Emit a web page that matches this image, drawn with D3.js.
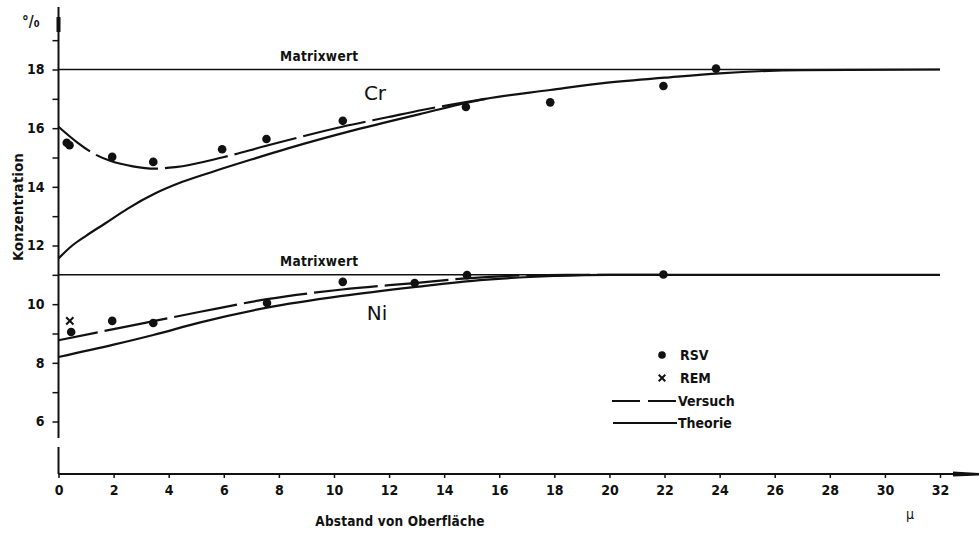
<!DOCTYPE html>
<html>
<head>
<meta charset="utf-8">
<script src="https://cdn.jsdelivr.net/npm/d3@7"></script>
<style>
    body { margin: 0; background: #fff; }
    svg { display: block; }
    text { font-family: 'DejaVu Sans Condensed', 'DejaVu Sans', sans-serif; fill: #111; font-weight: bold; }
</style>
</head>
<body>
<script>
// values (x in µ, y in %)
const crVersuchX = [0, 0.7, 1.34, 1.9, 2.7, 3.5, 4.24, 5.94, 7.51, 10.3, 11.98, 13.2, 15.5]
const crVersuchY = [16.05, 15.5, 15.1, 14.88, 14.7, 14.62, 14.67, 15.0, 15.39, 16.05, 16.38, 16.62, 17.0]
const crTheorieX = [0, 0.5, 1, 1.69, 2.5, 3.5, 4.5, 5.68, 7, 8.33, 10.77, 13.2, 15.5, 17.85, 19.7, 22, 24, 27, 32]
const crTheorieY = [11.56, 12.0, 12.33, 12.75, 13.25, 13.77, 14.17, 14.54, 14.93, 15.31, 15.94, 16.5, 17.0, 17.3, 17.53, 17.72, 17.87, 17.98, 18.0]
const niVersuchX = [0, 2, 3.44, 5.15, 7.57, 10.3, 12.93, 14.8, 16.5, 18.5, 22]
const niVersuchY = [8.77, 9.15, 9.42, 9.74, 10.17, 10.5, 10.72, 10.88, 10.97, 11.0, 11.0]
const niTheorieX = [0, 2, 3.44, 5.15, 7.57, 10.3, 12.9, 15.3, 18, 20, 32]
const niTheorieY = [8.2, 8.62, 8.95, 9.38, 9.88, 10.28, 10.58, 10.82, 10.96, 11.0, 11.0]

const crRsvX = [0.3, 0.4, 1.95, 3.44, 5.94, 7.55, 10.32, 14.79, 17.85, 21.96, 23.87]
const crRsvY = [15.5, 15.42, 15.02, 14.85, 15.28, 15.63, 16.25, 16.72, 16.88, 17.44, 18.03]
const niRsvX = [0.46, 1.95, 3.44, 7.57, 10.32, 12.93, 14.83, 21.96]
const niRsvY = [9.05, 9.43, 9.36, 10.04, 10.76, 10.72, 10.99, 11.01]
const remX = [0.41]
const remY = [9.43]

const matrixwerte = [18, 11]
const xTicks = d3.range(0, 33, 2)
const yTicks = d3.range(6, 20, 1)
const yLabels = [6, 8, 10, 12, 14, 16, 18]

const width = 979
const height = 534

const svg = d3.select('body').append('svg')
    .attr('width', width)
    .attr('height', height)

const x = d3.scaleLinear().domain([0, 32]).range([58.5, 940])
const y = d3.scaleLinear().domain([6, 18]).range([421.5, 69.5])
const xAxisY = 474

const zip = (xs, ys) => xs.map((d, i) => [d, ys[i]])

// axes lines (broken y axis like the original)
svg.append('line')
    .attr('x1', x(0)).attr('x2', x(0))
    .attr('y1', 7).attr('y2', 438)
    .attr('stroke', '#111').attr('stroke-width', 2)
svg.append('line')
    .attr('x1', x(0)).attr('x2', x(0))
    .attr('y1', 447).attr('y2', xAxisY)
    .attr('stroke', '#111').attr('stroke-width', 2)
svg.append('rect')
    .attr('x', x(0) - 2).attr('y', 17)
    .attr('width', 4).attr('height', 15)
    .attr('fill', '#111')

svg.append('line')
    .attr('x1', x(0)).attr('x2', 972)
    .attr('y1', xAxisY).attr('y2', xAxisY)
    .attr('stroke', '#111').attr('stroke-width', 2)
svg.append('path')
    .attr('d', `M953,${xAxisY - 2.5}L979,${xAxisY - 1}L979,${xAxisY + 1.5}L953,${xAxisY + 2.5}Z`)
    .attr('fill', '#111')

// y axis ticks + labels
const yAxis = d3.axisLeft(y)
    .tickValues(yTicks)
    .tickSize(6)
    .tickFormat(d => yLabels.includes(d) ? d : '')

const gy = svg.append('g')
    .attr('transform', `translate(${x(0)},0)`)
    .call(yAxis)
gy.select('.domain').remove()
gy.selectAll('.tick line').attr('stroke', '#111').attr('stroke-width', 1.5)
gy.selectAll('.tick text')
    .attr('x', -14)
    .style('font-size', '14px')
    .style('font-family', "'DejaVu Sans Condensed', sans-serif")
    .style('font-weight', 'bold')

// x axis ticks + labels
const xAxis = d3.axisBottom(x)
    .tickValues(xTicks)
    .tickSize(4)
    .tickPadding(7)

const gx = svg.append('g')
    .attr('transform', `translate(0,${xAxisY})`)
    .call(xAxis)
gx.select('.domain').remove()
gx.selectAll('.tick line').attr('stroke', '#111').attr('stroke-width', 1.5)
gx.selectAll('.tick text')
    .style('font-size', '14px')
    .style('font-family', "'DejaVu Sans Condensed', sans-serif")
    .style('font-weight', 'bold')

// Matrixwert lines
svg.selectAll('line.matrix')
    .data(matrixwerte)
    .enter()
    .append('line')
    .attr('class', 'matrix')
    .attr('x1', x(0)).attr('x2', x(32))
    .attr('y1', d => y(d)).attr('y2', d => y(d))
    .attr('stroke', '#111').attr('stroke-width', 1.5)

svg.selectAll('text.matrix')
    .data(matrixwerte)
    .enter()
    .append('text')
    .attr('class', 'matrix')
    .attr('x', 280)
    .attr('y', d => y(d) - 9)
    .style('font-size', '13.5px')
    .style('letter-spacing', '0.3px')
    .text('Matrixwert')

// curves
const line = d3.line()
    .x(d => x(d[0]))
    .y(d => y(d[1]))
    .curve(d3.curveMonotoneX)

const theorie = [zip(crTheorieX, crTheorieY), zip(niTheorieX, niTheorieY)]
const versuch = [zip(crVersuchX, crVersuchY), zip(niVersuchX, niVersuchY)]

svg.selectAll('path.theorie')
    .data(theorie)
    .enter()
    .append('path')
    .attr('class', 'theorie')
    .attr('d', line)
    .attr('fill', 'none')
    .attr('stroke', '#111')
    .attr('stroke-width', 2.2)

svg.selectAll('path.versuch')
    .data(versuch)
    .enter()
    .append('path')
    .attr('class', 'versuch')
    .attr('d', line)
    .attr('fill', 'none')
    .attr('stroke', '#111')
    .attr('stroke-width', 2.2)
    .attr('stroke-dasharray', '64,7')
    .attr('stroke-dashoffset', 24)

// RSV points
svg.selectAll('circle.rsv')
    .data(zip(crRsvX, crRsvY).concat(zip(niRsvX, niRsvY)))
    .enter()
    .append('circle')
    .attr('class', 'rsv')
    .attr('cx', d => x(d[0]))
    .attr('cy', d => y(d[1]))
    .attr('r', 4.3)
    .attr('fill', '#111')

// REM points
const cross = d3.symbol().type(d3.symbolX).size(36)
svg.selectAll('path.rem')
    .data(zip(remX, remY))
    .enter()
    .append('path')
    .attr('class', 'rem')
    .attr('d', cross)
    .attr('transform', d => `translate(${x(d[0])},${y(d[1])})`)
    .attr('stroke', '#111')
    .attr('stroke-width', 2)

// curve labels
svg.append('text').attr('x', 375).attr('y', 100)
    .attr('text-anchor', 'middle').style('font-size', '20px').style('font-weight', 'normal')
    .style('font-family', "'DejaVu Sans', sans-serif").text('Cr')
svg.append('text').attr('x', 377).attr('y', 320)
    .attr('text-anchor', 'middle').style('font-size', '20px').style('font-weight', 'normal')
    .style('font-family', "'DejaVu Sans', sans-serif").text('Ni')

// legend
const legend = svg.append('g')
legend.append('circle').attr('cx', 662).attr('cy', 355).attr('r', 3.8).attr('fill', '#111')
legend.append('text').attr('x', 680).attr('y', 360).style('font-size', '14px').text('RSV')
legend.append('path').attr('d', d3.symbol().type(d3.symbolX).size(30))
    .attr('transform', 'translate(662,378)').attr('stroke', '#111').attr('stroke-width', 2)
legend.append('text').attr('x', 680).attr('y', 383).style('font-size', '14px').text('REM')
legend.append('line').attr('x1', 612).attr('x2', 677).attr('y1', 401).attr('y2', 401)
    .attr('stroke', '#111').attr('stroke-width', 2).attr('stroke-dasharray', '28,8')
legend.append('text').attr('x', 678).attr('y', 406).style('font-size', '14px').text('Versuch')
legend.append('line').attr('x1', 613).attr('x2', 677).attr('y1', 423).attr('y2', 423)
    .attr('stroke', '#111').attr('stroke-width', 2)
legend.append('text').attr('x', 678).attr('y', 428).style('font-size', '14px').text('Theorie')

// axis titles
svg.append('text').attr('x', 22).attr('y', 27).style('font-size', '15px').text('°/₀')
svg.append('text')
    .attr('transform', 'translate(23,207) rotate(-90)')
    .attr('text-anchor', 'middle')
    .style('font-size', '14.5px')
    .style('letter-spacing', '0.3px')
    .text('Konzentration')
svg.append('text').attr('x', 400).attr('y', 526)
    .attr('text-anchor', 'middle')
    .style('font-size', '13.5px')
    .style('letter-spacing', '0.2px')
    .text('Abstand von Oberfläche')
svg.append('text').attr('x', 910).attr('y', 519)
    .attr('text-anchor', 'middle').style('font-size', '14px').style('font-weight', 'normal').text('μ')
</script>
</body>
</html>
